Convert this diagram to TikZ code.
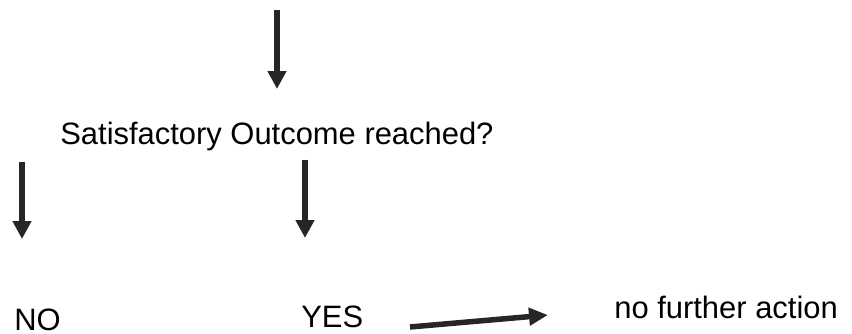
\documentclass[tikz,border=0pt]{standalone}
\usepackage{fontspec}
\setmainfont{Liberation Sans}
\usetikzlibrary{arrows.meta}

\tikzset{
  lbl/.style={inner sep=0pt, anchor=base west, font=\fontsize{17.6}{21}\selectfont},
  arr/.style={line width=0.11cm, -{Triangle[length=0.36cm,width=0.36cm]}, color=black!85}
}

\begin{document}
\begin{tikzpicture}[x=0.02cm,y=-0.02cm]
    \useasboundingbox (0,0) rectangle (852,334);

                \node[lbl] (q) at (60,145) {Satisfactory Outcome reached?};
                \node[lbl] (no) at (14,330) {NO};
                \node[lbl] (yes) at (301,327) {YES};
                \node[lbl] (nfa) at (614,318) {no further action};

                % arrow ends
                \coordinate (in) at (277,10);
                \coordinate (qin) at (277,89);
                \coordinate (nos) at (22,162);
                \coordinate (noe) at (22,239);
                \coordinate (yess) at (305,160);
                \coordinate (yese) at (305,238);
                \coordinate (nfas) at (410,327);
                \coordinate (nfae) at (548,315);

                \draw[arr] (in) -- (qin);
                \draw[arr] (nos) -- (noe);
                \draw[arr] (yess) -- (yese);
                \draw[arr, -{Triangle[length=0.38cm,width=0.34cm]}] (nfas) -- (nfae);

\end{tikzpicture}
\end{document}
